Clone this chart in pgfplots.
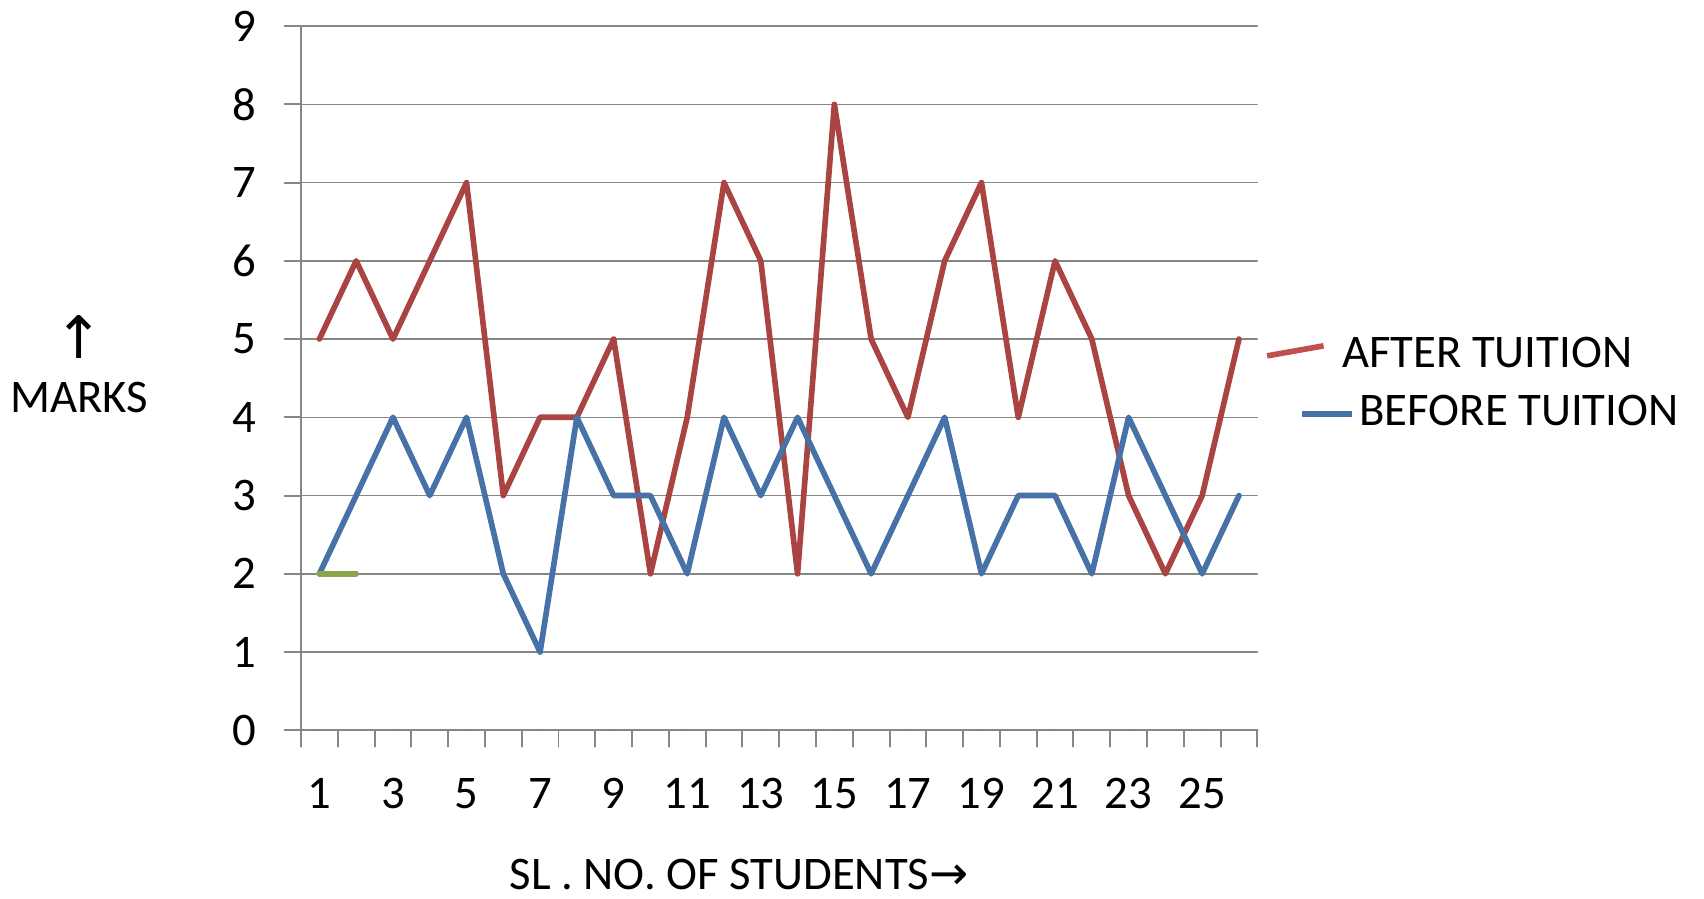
\documentclass[border=0pt]{standalone}
\usepackage{fontspec}
\setmainfont{Carlito}
\newfontfamily\arrowfont{DejaVu Sans}
\usepackage{pgfplots}
\pgfplotsset{compat=1.18}
\definecolor{redline}{RGB}{170,68,66}
\definecolor{redleg}{RGB}{192,80,77}
\definecolor{blueline}{RGB}{70,114,168}
\definecolor{greenline}{RGB}{137,166,74}
\definecolor{axisgray}{RGB}{134,134,134}
\begin{document}
\fontsize{21.5bp}{25bp}\selectfont
\begin{tikzpicture}
\begin{axis}[
  scale only axis, width=440bp, height=324bp,
  xmin=0.5, xmax=26.5, ymin=0, ymax=9,
  axis lines=left,
  axis line style={-, draw=axisgray, line width=0.9bp},
  xtick={1,3,...,25}, minor xtick={0.5,1.5,...,26.5},
  ytick={0,...,9}, minor ytick={0,...,9},
  major tick length=0pt, minor tick length=7.5bp, tick align=outside,
  tick style={draw=axisgray, line width=0.9bp},
  ymajorgrids, grid style={draw=axisgray, line width=0.7bp},
  /pgf/number format/assume math mode=true,
  yticklabel style={anchor=east, inner sep=0pt, xshift=-20.5bp},
  xticklabel style={anchor=north, inner sep=0pt, yshift=-22bp},
  ylabel={{\arrowfont\fontsize{27bp}{27bp}\selectfont ↑}\\MARKS},
  ylabel style={rotate=-90, align=center, anchor=center, at={(axis description cs:-0.232,0.52)}},
  xlabel={SL . NO. OF STUDENTS{\arrowfont →}},
  xlabel style={anchor=center, inner sep=0pt, text depth=0pt, at={(axis description cs:0.458,-0.205)}},
  legend style={draw=none, fill=none, at={(axis description cs:1.0,0.565)}, anchor=north west,
    row sep=9.5bp, nodes={inner sep=0pt}},
  legend cell align=left,
  line join=round, line cap=round,
]
\addplot[redline, line width=2.6bp,
  legend image code/.code={\path[draw=none] (0bp,0bp) -- (40bp,0bp);
    \draw[redleg, line width=2.6bp] (0bp,0bp) -- (26bp,4.6bp);}]
  coordinates {
  (1,5) (2,6) (3,5) (4,6) (5,7) (6,3) (7,4) (8,4) (9,5) (10,2)
  (11,4) (12,7) (13,6) (14,2) (15,8) (16,5) (17,4) (18,6) (19,7) (20,4)
  (21,6) (22,5) (23,3) (24,2) (25,3) (26,5)
};
\addlegendentry{\hspace{-5.8bp}AFTER TUITION}
\addplot[blueline, line width=2.6bp,
  legend image code/.code={\path[draw=none] (0bp,0bp) -- (40bp,0bp);
    \draw[blueline, line width=2.6bp] (16bp,0bp) -- (39bp,0bp);}]
  coordinates {
  (1,2) (2,3) (3,4) (4,3) (5,4) (6,2) (7,1) (8,4) (9,3) (10,3)
  (11,2) (12,4) (13,3) (14,4) (15,3) (16,2) (17,3) (18,4) (19,2) (20,3)
  (21,3) (22,2) (23,4) (24,3) (25,2) (26,3)
};
\addlegendentry{\hspace{2.2bp}BEFORE TUITION}
\addplot[greenline, line width=2.6bp, forget plot] coordinates {(1,2) (2,2)};
\end{axis}
\pgfresetboundingbox
\path[use as bounding box] (current axis.south west) ++(-138.5bp,-77.5bp) rectangle ++(784bp,413.5bp);
\end{tikzpicture}
\end{document}
